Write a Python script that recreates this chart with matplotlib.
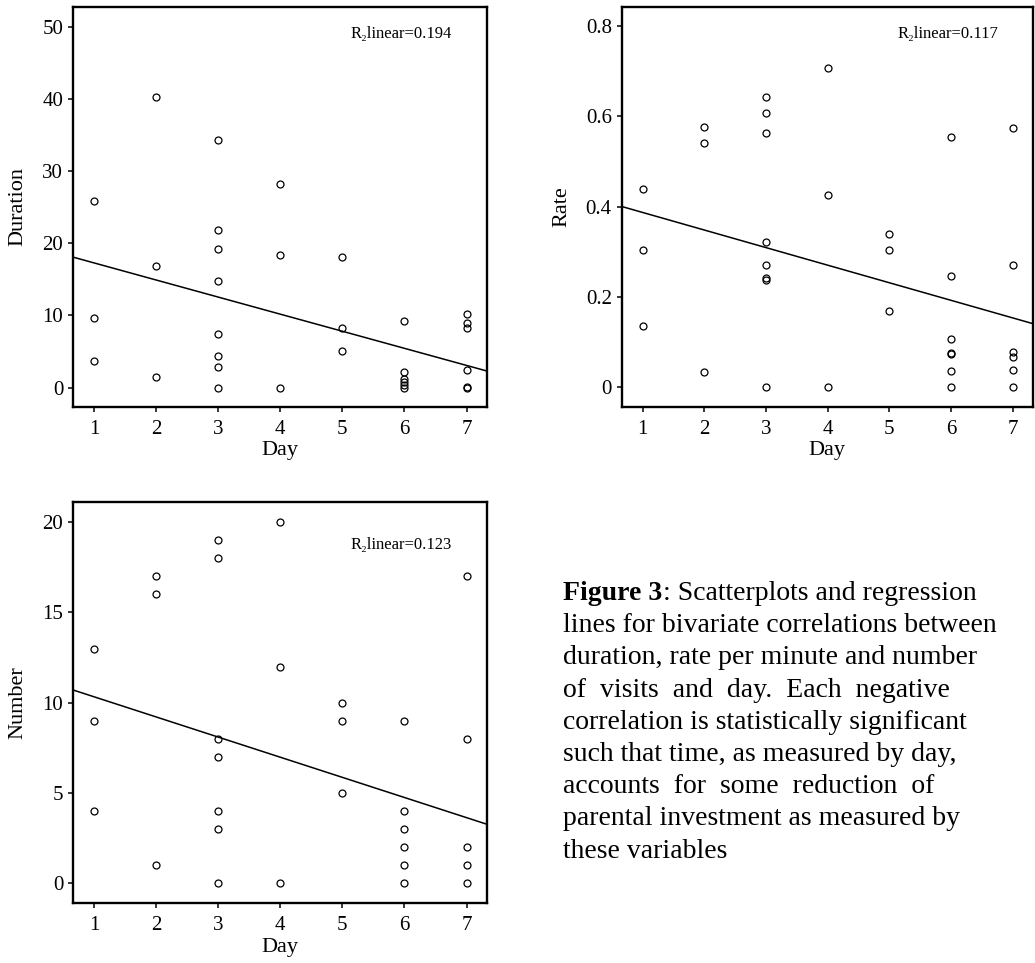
import matplotlib
matplotlib.use("Agg")
import matplotlib.pyplot as plt
from matplotlib.ticker import FuncFormatter

plt.rcParams['font.family'] = ['Liberation Serif', 'DejaVu Serif']

# Dados (dia x valor)
dur_dias = [1, 1, 1, 2, 2, 2, 3, 3, 3, 3, 3, 3, 3, 3, 4, 4, 4, 5, 5, 5,
            6, 6, 6, 6, 6, 6, 7, 7, 7, 7, 7, 7]
dur_vals = [25.9, 9.7, 3.75, 40.3, 16.8, 1.5, 34.35, 21.85, 19.2, 14.8, 7.4, 4.35, 2.9, 0.0,
            28.2, 18.4, 0.0, 18.1, 8.2, 5.1,
            9.2, 2.1, 1.2, 0.8, 0.4, 0.0, 10.2, 8.9, 8.2, 2.4, 0.1, 0.0]

rate_dias = [1, 1, 1, 2, 2, 2, 3, 3, 3, 3, 3, 3, 3, 3, 4, 4, 4, 5, 5, 5,
             6, 6, 6, 6, 6, 6, 6, 7, 7, 7, 7, 7, 7]
rate_vals = [0.439, 0.304, 0.135, 0.576, 0.542, 0.034,
             0.642, 0.608, 0.562, 0.321, 0.271, 0.241, 0.238, 0.0,
             0.708, 0.425, 0.0, 0.339, 0.305, 0.169,
             0.555, 0.246, 0.107, 0.077, 0.073, 0.035, 0.0,
             0.575, 0.270, 0.079, 0.067, 0.038, 0.0]

num_dias = [1, 1, 1, 2, 2, 2, 3, 3, 3, 3, 3, 3, 3, 4, 4, 4, 5, 5, 5,
            6, 6, 6, 6, 6, 6, 7, 7, 7, 7, 7]
num_vals = [13, 9, 4, 17, 16, 1, 19, 18, 8, 7, 4, 3, 0, 20, 12, 0, 10, 9, 5,
            9, 4, 3, 2, 1, 0, 17, 8, 2, 1, 0]

# Retas de regressão (intercepto, inclinação) e R² como aparecem na figura
retas = [(19.66, -2.37), (0.426, -0.0389), (11.44, -1.117)]
r2 = ['0.194', '0.117', '0.123']
rotulos_y = ['Duration', 'Rate', 'Number']
ticks_y = [[0, 10, 20, 30, 40, 50], [0, 0.2, 0.4, 0.6, 0.8], [0, 5, 10, 15, 20]]
limites_y = [(-2.7, 52.8), (-0.0436, 0.842), (-1.13, 21.1)]

W, H = 1035, 963
fig = plt.figure(figsize=(W / 100, H / 100), dpi=100)

# posições dos painéis em pixels: esquerda, topo, direita, baixo
caixas = [(73, 7, 487, 407), (621.7, 7, 1033, 407), (73, 502.5, 487, 903.3)]
pos_rotulo_y = [-55 / 414, -60 / 411, -55 / 414]
pos_r2 = [(0.9155, 0.9325), (0.916, 0.9325), (0.9155, 0.894)]

dados = [(dur_dias, dur_vals), (rate_dias, rate_vals), (num_dias, num_vals)]

for i, (x, y) in enumerate(dados):
    l, t, r, b = caixas[i]
    ax = fig.add_axes([l / W, 1 - b / H, (r - l) / W, (b - t) / H])
    ax.plot(x, y, linestyle='none', marker='o', mfc='none', mec='black', ms=5, mew=0.9)
    ax.axline((0, retas[i][0]), slope=retas[i][1], color='black', lw=1.1)
    ax.set_xlim(0.66, 7.33)
    ax.set_ylim(*limites_y[i])
    ax.set_xticks(range(1, 8))
    ax.set_yticks(ticks_y[i])
    ax.yaxis.set_major_formatter(FuncFormatter(lambda v, p: '%g' % v))
    ax.tick_params(labelsize=15, length=3.6, width=1.1, pad=3.5, color='black')
    ax.tick_params(axis='x', pad=5.5)
    for s in ax.spines.values():
        s.set_linewidth(1.7)
    ax.set_xlabel('Day', fontsize=16)
    ax.set_ylabel(rotulos_y[i], fontsize=16)
    ax.xaxis.label.set_va('center')
    ax.yaxis.label.set_va('center')
    ax.xaxis.set_label_coords(0.5, -44 / 400)
    ax.yaxis.set_label_coords(pos_rotulo_y[i], 0.5)
    ax.text(pos_r2[i][0], pos_r2[i][1], 'R\u2082linear=' + r2[i], transform=ax.transAxes,
            ha='right', va='center', fontsize=12)

# Legenda da figura
linhas = [
    None,
    'lines for bivariate correlations between',
    'duration, rate per minute and number',
    'of  visits  and  day.  Each  negative',
    'correlation is statistically significant',
    'such that time, as measured by day,',
    'accounts  for  some  reduction  of',
    'parental investment as measured by',
    'these variables',
]
x0 = 563.3
base0 = 600
passo = 32.2
renderer = fig.canvas.get_renderer()
t = fig.text(x0 / W, 1 - base0 / H, 'Figure 3', fontsize=20, weight='bold', va='baseline')
bb = t.get_window_extent(renderer)
fig.text(bb.x1 / W, 1 - base0 / H, ': Scatterplots and regression', fontsize=20, va='baseline')
for k, linha in enumerate(linhas):
    if linha is None:
        continue
    fig.text(x0 / W, 1 - (base0 + k * passo) / H, linha, fontsize=20, va='baseline')

fig.savefig('out.png', dpi=100)
